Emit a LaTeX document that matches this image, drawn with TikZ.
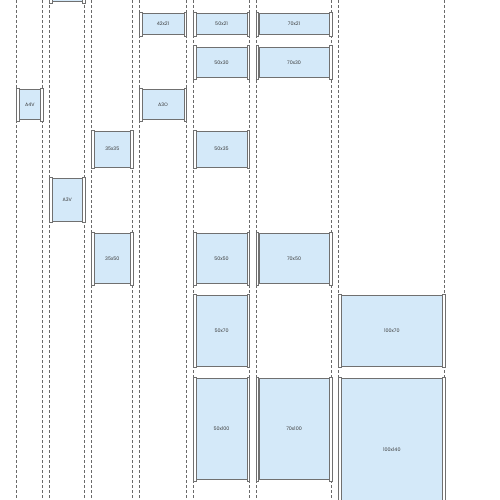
\documentclass[tikz,border=0pt]{standalone}
\usepackage{fontspec}
\setmainfont{Poppins}
\usepackage{tikz}
\definecolor{sheet}{HTML}{D4E9F9}
\definecolor{edge}{HTML}{707070}
\definecolor{guide}{HTML}{6A6A6A}
\definecolor{ink}{HTML}{383838}

\begin{document}
\begin{tikzpicture}[x=1pt,y=-1pt,
  poster/.style={draw=edge,fill=sheet,line width=0.6pt,inner sep=0pt,anchor=north west,
    text=ink,font=\fontsize{4.8}{5.5}\selectfont},
  rod/.style={draw=edge,fill=white,line width=0.5pt},
  guide/.style={draw=guide,dash pattern=on 3pt off 2pt,line width=0.5pt}]
  \useasboundingbox (0,0) rectangle (500,500);
  % column guides
  \foreach \x in {16.5,42.5,49.5,84.5,91.5,132.5,139.5,186,193.5,249,256,331.5,338.5,444.5}
    \draw[guide] (\x,0) -- (\x,500);
  % posters
  \node [poster,minimum width=30pt,minimum height=29.5pt] (top) at (52,-28) {};
  \node [poster,minimum width=41.5pt,minimum height=21pt] (f42x21) at (142,13.3) {42x21};
  \node [poster,minimum width=50.5pt,minimum height=21pt] (f50x21) at (196,13.3) {50x21};
  \node [poster,minimum width=70.5pt,minimum height=21pt] (f70x21) at (258.5,13.3) {70x21};
  \node [poster,minimum width=50.5pt,minimum height=30.6pt] (f50x30) at (196,46.7) {50x30};
  \node [poster,minimum width=70.5pt,minimum height=30.6pt] (f70x30) at (258.5,46.7) {70x30};
  \node [poster,minimum width=21pt,minimum height=30pt] (a4v) at (19,89.3) {A4V};
  \node [poster,minimum width=41.5pt,minimum height=30pt] (a3o) at (142,89.3) {A3O};
  \node [poster,minimum width=36pt,minimum height=35.7pt] (f35x35) at (94,131) {35x35};
  \node [poster,minimum width=50.5pt,minimum height=35.7pt] (f50x35) at (196,131) {50x35};
  \node [poster,minimum width=30pt,minimum height=42.7pt] (a3v) at (52,178.3) {A3V};
  \node [poster,minimum width=36pt,minimum height=50pt] (f35x50) at (94,233.3) {35x50};
  \node [poster,minimum width=50.5pt,minimum height=50pt] (f50x50) at (196,233.3) {50x50};
  \node [poster,minimum width=70.5pt,minimum height=50pt] (f70x50) at (258.5,233.3) {70x50};
  \node [poster,minimum width=50.5pt,minimum height=70.7pt] (f50x70) at (196,295.3) {50x70};
  \node [poster,minimum width=101pt,minimum height=70.7pt] (f100x70) at (341,295.3) {100x70};
  \node [poster,minimum width=50.5pt,minimum height=101pt] (f50x100) at (196,378.3) {50x100};
  \node [poster,minimum width=70.5pt,minimum height=101pt] (f70x100) at (258.5,378.3) {70x100};
  \node [poster,minimum width=101pt,minimum height=141.7pt] (f100x140) at (341,378.3) {100x140};
  % side rods
  \foreach \p in {top,f42x21,f50x21,f70x21,f50x30,f70x30,a4v,a3o,f35x35,f50x35,a3v,
                  f35x50,f50x50,f70x50,f50x70,f100x70,f50x100,f70x100,f100x140} {
    \draw[rod] ([xshift=-2.5pt,yshift=1pt]\p.north west) rectangle ([yshift=-1pt]\p.south west);
    \draw[rod] ([yshift=1pt]\p.north east) rectangle ([xshift=2.5pt,yshift=-1pt]\p.south east);
  }
\end{tikzpicture}
\end{document}
